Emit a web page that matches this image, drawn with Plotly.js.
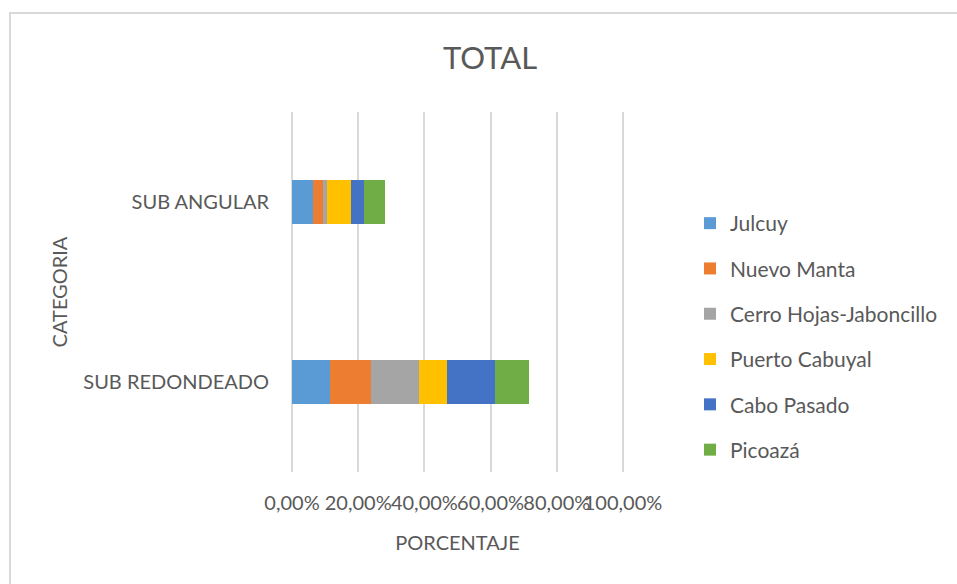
<!DOCTYPE html>
<html>
<head>
<meta charset="utf-8">
<script src="https://cdn.plot.ly/plotly-3.0.1.min.js"></script>
<style>html,body{margin:0;padding:0;background:#fff;}#chart{width:957px;height:584px;}</style>
</head>
<body>
<div id="chart"></div>
<script>
var categories = ['SUB REDONDEADO', 'SUB ANGULAR'];
var seriesNames = ['Julcuy', 'Nuevo Manta', 'Cerro Hojas-Jaboncillo', 'Puerto Cabuyal', 'Cabo Pasado', 'Picoazá'];
var julcuy = [0.116, 0.063];
var nuevoManta = [0.124, 0.030];
var cerroHojas = [0.143, 0.012];
var puertoCabuyal = [0.085, 0.073];
var caboPasado = [0.144, 0.039];
var picoaza = [0.103, 0.065];
var tickVals = [0, 0.2, 0.4, 0.6, 0.8, 1.0];
var tickLabels = ['0,00%', '20,00%', '40,00%', '60,00%', '80,00%', '100,00%'];

var seriesValues = [julcuy, nuevoManta, cerroHojas, puertoCabuyal, caboPasado, picoaza];
var colors = ['#5B9BD5', '#ED7D31', '#A5A5A5', '#FFC000', '#4472C4', '#70AD47'];
var FONT = 'Lato, "Open Sans", sans-serif';
var TXT = '#595959';

var traces = seriesNames.map(function (name, i) {
  return {
    type: 'bar',
    orientation: 'h',
    name: name,
    legendgroup: 'g' + i,
    x: seriesValues[i],
    y: categories,
    marker: {color: colors[i], line: {width: 0}},
    hoverinfo: 'x+name'
  };
});

// pixel frame: 0% at x=292, 100% at x=623; plot top 112, bottom 472
var X0 = 292, X1 = 623, T = 112, B = 472, W = 957, H = 584;
var PAD = 0.006; // small range padding so edge gridlines are drawn
var unit = X1 - X0;
var L = X0 - PAD * unit, R = X1 + PAD * unit;
function px(x) { return (x - L) / (R - L); }
function py(y) { return (B - y) / (B - T); }

var layout = {
  width: W, height: H,
  margin: {l: L, r: W - R, t: T, b: H - B, pad: 0},
  paper_bgcolor: '#fff', plot_bgcolor: '#fff',
  barmode: 'stack',
  bargap: 0.754,
  font: {family: FONT, color: TXT, size: 20},
  title: {
    text: 'TOTAL',
    font: {family: FONT, size: 31, color: TXT},
    xref: 'container', x: 490 / W, xanchor: 'center',
    yref: 'container', y: 1 - 58 / H, yanchor: 'middle'
  },
  xaxis: {
    range: [-PAD, 1 + PAD],
    tickvals: tickVals,
    ticktext: tickLabels,
    tickangle: 0,
    showgrid: true, gridcolor: '#d9d9d9', gridwidth: 2,
    zeroline: false, showline: false, ticks: '',
    ticklabelstandoff: 17,
    tickfont: {family: FONT, size: 20, color: TXT},
    title: {text: 'PORCENTAJE', font: {family: FONT, size: 20, color: TXT}, standoff: 22},
    fixedrange: true
  },
  yaxis: {
    type: 'category',
    categoryorder: 'array', categoryarray: categories,
    range: [-0.5, 1.5],
    showgrid: false, zeroline: false, showline: false, ticks: '',
    ticklabelstandoff: 20,
    tickfont: {family: FONT, size: 20, color: TXT},
    title: {text: 'CATEGORIA', font: {family: FONT, size: 20, color: TXT}, standoff: 10},
    fixedrange: true
  },
  showlegend: true,
  legend: {
    traceorder: 'grouped',
    tracegroupgap: 15,
    x: px(690), xanchor: 'left',
    y: py(203), yanchor: 'top',
    font: {family: FONT, size: 21, color: TXT},
    bgcolor: 'rgba(0,0,0,0)',
    itemwidth: 30
  },
  shapes: [{
    type: 'rect', xref: 'paper', yref: 'paper',
    x0: px(10), x1: px(975), y0: py(600), y1: py(13),
    line: {color: '#d9d9d9', width: 2}, fillcolor: 'rgba(0,0,0,0)', layer: 'below'
  }]
};

Plotly.newPlot('chart', traces, layout, {displayModeBar: false, staticPlot: true});
</script>
</body>
</html>
